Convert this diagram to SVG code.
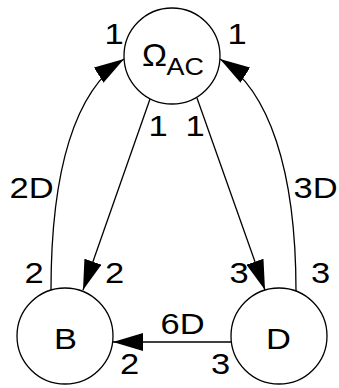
<svg xmlns="http://www.w3.org/2000/svg" width="339" height="388" viewBox="0 0 339 388">
<style>
.node{fill:#fff;stroke:#000;stroke-width:1.3}
.edge{fill:none;stroke:#000;stroke-width:1.3}
text{font-family:"Liberation Sans",Arial,sans-serif;font-size:30px;fill:#000}
.lbl{text-anchor:middle}
</style>
<defs>
<marker id="arr" markerUnits="userSpaceOnUse" markerWidth="30" markerHeight="18" refX="30" refY="9" orient="auto" viewBox="0 0 30 18">
<path d="M0,0 L30,9 L0,18 z" fill="#000"/>
</marker>
</defs>
<rect width="339" height="388" fill="#fff"/>
<g id="connectors">
<path class="edge" d="M51,290 C51,170 75,90 124,59" marker-end="url(#arr)"/>
<path class="edge" d="M296,291 C296,170 269,90 220,59" marker-end="url(#arr)"/>
<path class="edge" d="M150,99 L83,290" marker-end="url(#arr)"/>
<path class="edge" d="M197,98 L265,290" marker-end="url(#arr)"/>
<path class="edge" d="M232,342 L113,342" marker-end="url(#arr)"/>
</g>
<g id="node-omega">
<circle class="node" cx="172" cy="56" r="48"/>
<text transform="translate(142,65.5) scale(1.08,1)" style="font-size:31px">Ω</text>
<text transform="translate(166.5,75) scale(1.12,1)" style="font-size:24px">AC</text>
</g>
<g id="node-B">
<circle class="node" cx="65" cy="336" r="48"/>
<text class="lbl" transform="translate(65.5,348.5) scale(1.15,1)">B</text>
</g>
<g id="node-D">
<circle class="node" cx="279" cy="336" r="48"/>
<text class="lbl" transform="translate(278.5,348.5) scale(1.15,1)">D</text>
</g>
<g id="labels">
<text class="lbl" transform="translate(114,43.5) scale(1.15,1)">1</text>
<text class="lbl" transform="translate(237,43.5) scale(1.15,1)">1</text>
<text class="lbl" transform="translate(158,135.5) scale(1.15,1)">1</text>
<text class="lbl" transform="translate(195,135.5) scale(1.15,1)">1</text>
<text class="lbl" transform="translate(31.5,197.5) scale(1.15,1)">2D</text>
<text class="lbl" transform="translate(315.5,197.5) scale(1.15,1)">3D</text>
<text class="lbl" transform="translate(34,282.5) scale(1.15,1)">2</text>
<text class="lbl" transform="translate(114.5,282.5) scale(1.15,1)">2</text>
<text class="lbl" transform="translate(239,282.5) scale(1.15,1)">3</text>
<text class="lbl" transform="translate(320.5,282.5) scale(1.15,1)">3</text>
<text class="lbl" transform="translate(182.5,333.5) scale(1.15,1)">6D</text>
<text class="lbl" transform="translate(129.5,373.5) scale(1.15,1)">2</text>
<text class="lbl" transform="translate(220.5,373.5) scale(1.15,1)">3</text>
</g>
</svg>
